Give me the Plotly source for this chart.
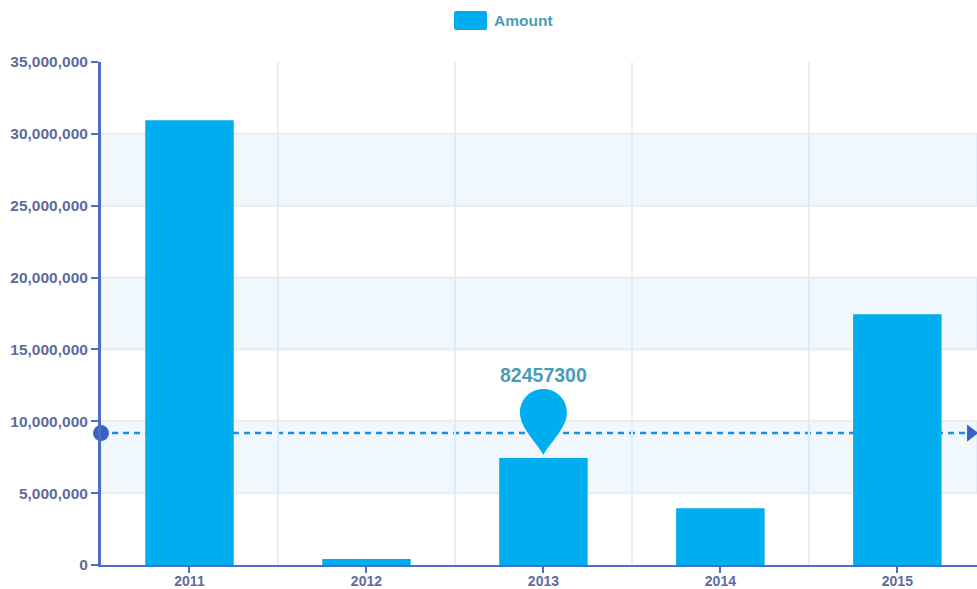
import plotly.graph_objects as go

years = [2011, 2012, 2013, 2014, 2015]
amounts = [30950000, 420000, 7450000, 3950000, 17450000]
series_name = "Amount"
mean_value = 9180000
pin_year = 2013
pin_value = 7450000
pin_label = "82457300"
y_ticks = [0, 5000000, 10000000, 15000000, 20000000, 25000000, 30000000, 35000000]
bands = [(5000000, 10000000), (15000000, 20000000), (25000000, 30000000)]

X_RANGE = [2010.5, 2015.45]
FONT = "Liberation Sans, Arial, sans-serif"
AXIS = "#4a6fcb"
TICKTXT = "#5d6c9c"
TEAL = "#4a9dba"
BAR = "#00aeef"
GRID = "#ececf1"

fig = go.Figure()
fig.add_trace(go.Bar(x=years, y=amounts, name=series_name, width=0.5,
                     marker=dict(color=BAR, line=dict(width=0)), showlegend=False))
fig.add_trace(go.Scatter(x=[X_RANGE[0]], y=[mean_value], mode="markers", cliponaxis=False,
                         marker=dict(symbol="circle", size=16, color="#3a62c4"), showlegend=False))
fig.add_trace(go.Scatter(x=[X_RANGE[1] - 0.035], y=[mean_value], mode="markers", cliponaxis=False,
                         marker=dict(symbol="triangle-right", size=15, color="#3a62c4"), showlegend=False))

shapes = []
for lo, hi in bands:
    shapes.append(dict(type="rect", layer="between", xref="paper", x0=0, x1=1, yref="y", y0=lo, y1=hi,
                       line=dict(width=2, color="#e0eff9"), fillcolor="#f0f8fd"))
    for yr in years:
        if yr + 0.5 < X_RANGE[1]:
            shapes.append(dict(type="line", layer="between", xref="x", yref="y", x0=yr + 0.5, x1=yr + 0.5,
                               y0=lo, y1=hi, line=dict(width=2, color="#d8eefa")))
shapes.append(dict(type="line", layer="between", xref="paper", x0=0, x1=1, yref="y", y0=mean_value, y1=mean_value,
                   line=dict(color="#1d8fe6", width=2.5, dash="6px,5px")))
# pin marker, sized in pixels and anchored on the 2013 bar
shapes.append(dict(type="path", layer="above", xref="x", yref="y", xsizemode="pixel", ysizemode="pixel",
                   xanchor=pin_year, yanchor=pin_value,
                   path="M0,3 C-7,16 -23.5,30 -23.5,45.5 C-23.5,58.5 -13,69 0,69 "
                        "C13,69 23.5,58.5 23.5,45.5 C23.5,30 7,16 0,3 Z",
                   fillcolor=BAR, line=dict(width=0)))
# legend swatch
shapes.append(dict(type="path", layer="above", xref="paper", yref="paper", xsizemode="pixel", ysizemode="pixel",
                   xanchor=(470.5 - 101) / 876, yanchor=1 + (62 - 20.5) / 503,
                   path="M-14.5,-9.5 L14.5,-9.5 Q16.5,-9.5 16.5,-7.5 L16.5,7.5 Q16.5,9.5 14.5,9.5 "
                        "L-14.5,9.5 Q-16.5,9.5 -16.5,7.5 L-16.5,-7.5 Q-16.5,-9.5 -14.5,-9.5 Z",
                   fillcolor=BAR, line=dict(width=0)))

annotations = [
    dict(x=pin_year, y=pin_value, xref="x", yref="y", text=f"<b>{pin_label}</b>", showarrow=False,
         yshift=83, font=dict(family=FONT, size=19.5, color=TEAL)),
    dict(x=(494 - 101) / 876, y=1 + (62 - 20.5) / 503, xref="paper", yref="paper", xanchor="left", yanchor="middle",
         text=f"<b>{series_name}</b>", showarrow=False, xshift=-2,
         font=dict(family=FONT, size=15.5, color=TEAL)),
]

fig.update_layout(
    width=977, height=589, margin=dict(l=101, r=0, t=62, b=24, pad=0),
    paper_bgcolor="white", plot_bgcolor="white", showlegend=False,
    shapes=shapes, annotations=annotations,
    xaxis=dict(range=X_RANGE, tickmode="array", tickvals=years, ticktext=[str(y) for y in years],
               automargin=False,
               showgrid=False, zeroline=False, showline=True, linecolor=AXIS, linewidth=2,
               ticks="outside", ticklen=6, tickwidth=2, tickcolor=AXIS, ticklabelstandoff=-4,
               tickfont=dict(family=FONT, size=14, color=TICKTXT, weight="bold"),
               minor=dict(tick0=2010.5, dtick=1, showgrid=True, gridcolor=GRID, gridwidth=2, ticks="")),
    yaxis=dict(range=[0, 35000000], tickmode="array", tickvals=y_ticks, tickformat=",d",
               automargin=False,
               showgrid=True, gridcolor=GRID, gridwidth=2, zeroline=False,
               showline=True, linecolor=AXIS, linewidth=3,
               ticks="outside", ticklen=7, tickwidth=2, tickcolor=AXIS,
               tickfont=dict(family=FONT, size=15.5, color=TICKTXT, weight="bold")),
)
fig.write_html("out.html", config=dict(displayModeBar=False),
               post_script="document.body.style.margin='0';document.body.style.overflow='hidden';")
